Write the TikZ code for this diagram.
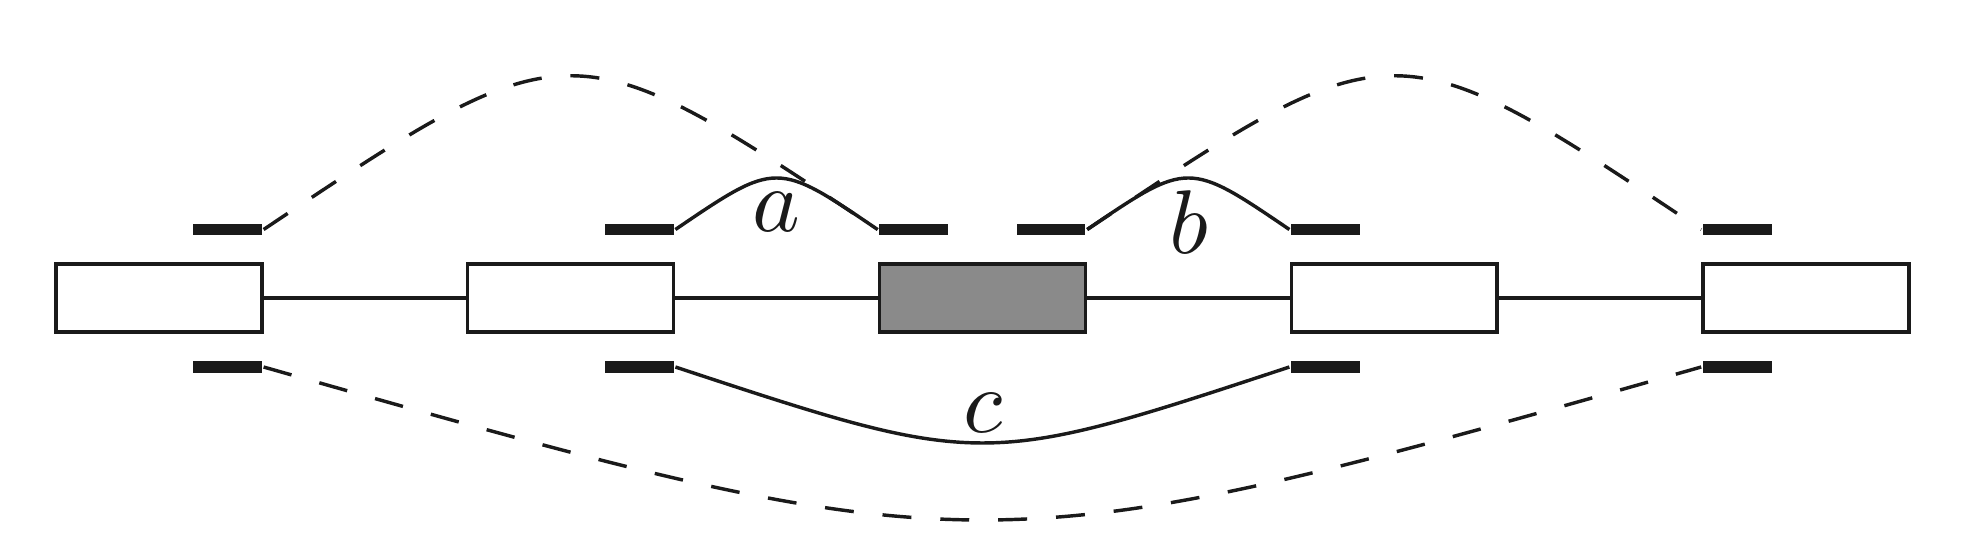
\documentclass[tikz,border=0pt]{standalone}
\usetikzlibrary{positioning}
\definecolor{ink}{HTML}{1A1A1A}
\definecolor{boxgray}{HTML}{8A8A8A}
\begin{document}
\begin{tikzpicture}[x=0.1105pt, y=-0.1105pt,
  exon/.style={draw=ink, line width=0.38pt, fill=white, rectangle, inner sep=0pt,
    minimum width=22.76pt, minimum height=7.51pt},
  bar/.style={fill=ink, rectangle, inner sep=0pt, minimum width=7.58pt, minimum height=1.22pt},
  link/.style={draw=ink, line width=0.38pt},
  jump/.style={draw=ink, line width=0.38pt, dash pattern=on 3.2pt off 3.2pt},
  lbl/.style={inner sep=0pt, text=ink}]
\useasboundingbox (0,0) rectangle (1974,544);
% boxes
\node[exon] (n1) at (158.8,298) {};
\node[exon] (n2) at (570.6,298) {};
\node[exon, fill=boxgray] (n3) at (982.4,298) {};
\node[exon] (n4) at (1394.2,298) {};
\node[exon] (n5) at (1806.0,298) {};
% connectors between boxes
\draw[link] (n1.east) -- (n2.west);
\draw[link] (n2.east) -- (n3.west);
\draw[link] (n3.east) -- (n4.west);
\draw[link] (n4.east) -- (n5.west);
% bars above
\node[bar] (b1t) at (227.5,229.5) {};
\node[bar] (b2t) at (639.3,229.5) {};
\node[bar] (b3lt) at (913.7,229.5) {};
\node[bar] (b3rt) at (1051.1,229.5) {};
\node[bar] (b4t) at (1325.5,229.5) {};
\node[bar] (b5t) at (1737.3,229.5) {};
% bars below
\node[bar] (b1b) at (227.5,367) {};
\node[bar] (b2b) at (639.3,367) {};
\node[bar] (b4b) at (1325.5,367) {};
\node[bar] (b5b) at (1737.3,367) {};
% curves
\draw[jump] (b1t.east) .. controls (570.6,24.5) .. (b3lt.west);
\draw[jump] (b3rt.east) .. controls (1394.2,24.5) .. (b5t.west);
\draw[link] (b2t.east) .. controls (776.5,160.8) .. (b3lt.west);
\draw[link] (b3rt.east) .. controls (1188.3,160.8) .. (b4t.west);
\draw[link] (b2b.east) .. controls (982.4,468.3) .. (b4b.west);
\draw[jump] (b1b.east) .. controls (982.4,571) .. (b5b.west);
% labels
\node[lbl] (la) at (776,212) {$a$};
\node[lbl] (lb) at (1189,222) {$b$};
\node[lbl] (lc) at (983,413) {$c$};
\end{tikzpicture}
\end{document}
